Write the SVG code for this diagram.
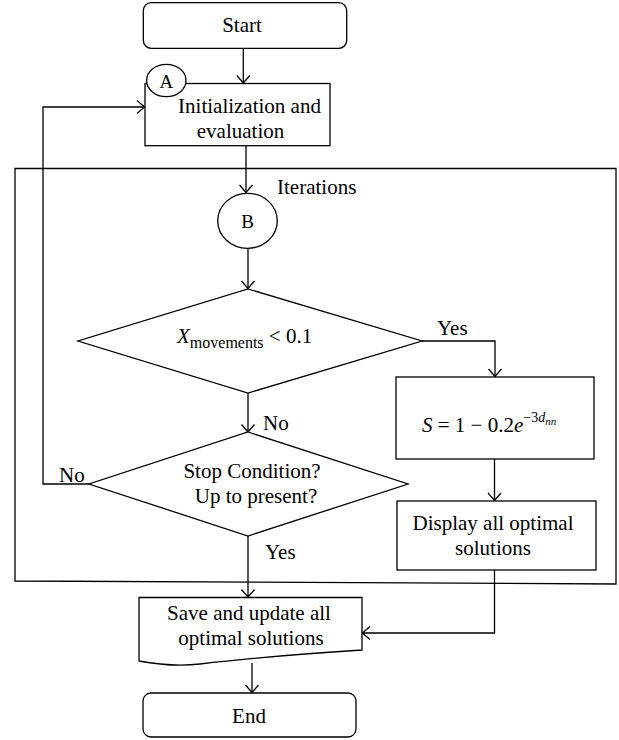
<svg xmlns="http://www.w3.org/2000/svg" width="619" height="740" viewBox="0 0 619 740" font-family="'Liberation Serif', 'Times New Roman', serif">
<style>
.s{fill:#fff;stroke:#000;stroke-width:1.3}
.f{fill:none;stroke:#000;stroke-width:1.3}
.c{fill:none;stroke:#000;stroke-width:1.3;marker-end:url(#ah)}
text{font-family:'Liberation Serif','Times New Roman',serif;font-size:21px;fill:#000}
.m{text-anchor:middle}
.i{font-style:italic}
</style>
<defs>
<marker id="ah" markerUnits="userSpaceOnUse" viewBox="-9 -8 10 16" refX="0" refY="0" markerWidth="10" markerHeight="16" orient="auto">
<path d="M-7.5,-6.5 L0,0 L-7.5,6.5" fill="none" stroke="#000" stroke-width="1.3"/>
</marker>
</defs>
<rect width="619" height="740" fill="#fff"/>
<g id="frame">
<path class="f" d="M15,168.5 H616 V584 L15,581 Z"/>
<text x="277" y="194">Iterations</text>
</g>
<g id="connectors">
<path class="c" d="M243.3,48.3 V83"/>
<path class="c" d="M246,146 V192.5"/>
<path class="c" d="M248,248.5 V288.5"/>
<path class="c" d="M422,341 H495 V376.5"/>
<path class="c" d="M248,393 V432"/>
<path class="c" d="M89,484 H43 V107 H144.5"/>
<path class="c" d="M248,536 V597"/>
<path class="c" d="M494.5,459 V500.5"/>
<path class="c" d="M494.5,570 V633 H362.5"/>
<path class="c" d="M252,663 V692.5"/>
<text x="437" y="335">Yes</text>
<text x="263" y="430">No</text>
<text x="59" y="482">No</text>
<text x="265" y="559">Yes</text>
</g>
<g id="start">
<rect class="s" x="143.3" y="2.7" width="203.4" height="45.6" rx="8"/>
<text class="m" x="242" y="32">Start</text>
</g>
<g id="init">
<rect class="s" x="145" y="83.5" width="185" height="62.2"/>
<text class="m" x="249.5" y="113">Initialization and</text>
<text class="m" x="240.5" y="138">evaluation</text>
</g>
<g id="A">
<ellipse class="s" cx="166.3" cy="80.5" rx="19.7" ry="16.2"/>
<text class="m" x="166.3" y="87.5" style="font-size:19px">A</text>
</g>
<g id="B">
<ellipse class="s" cx="247.5" cy="220.8" rx="29.8" ry="27.5"/>
<text class="m" x="247.5" y="228" style="font-size:19px">B</text>
</g>
<g id="decision1">
<polygon class="s" points="248,289 422,341 248,393 78,341"/>
<text x="177" y="343"><tspan class="i">X</tspan><tspan style="font-size:16px" dy="5">movements</tspan><tspan dy="-5"> &lt; 0.1</tspan></text>
</g>
<g id="formula">
<rect class="s" x="396" y="377" width="198" height="82"/>
<text x="422" y="432"><tspan class="i">S</tspan> = 1 − 0.2<tspan class="i">e</tspan><tspan style="font-size:14px" dy="-10">−3</tspan><tspan class="i" style="font-size:14px">d</tspan><tspan class="i" style="font-size:11px" dy="3">nn</tspan></text>
</g>
<g id="decision2">
<polygon class="s" points="248,432 408,484 248,536 89,484"/>
<text class="m" x="252" y="478">Stop Condition?</text>
<text class="m" x="256" y="503">Up to present?</text>
</g>
<g id="display">
<rect class="s" x="397" y="501" width="199" height="69"/>
<text class="m" x="493" y="530">Display all optimal</text>
<text class="m" x="493" y="555">solutions</text>
</g>
<g id="save">
<path class="s" d="M139,597.5 H362 V650 C300,654 250,658 200,664 C175,667 155,664 139,661 Z"/>
<text class="m" x="249" y="620">Save and update all</text>
<text class="m" x="251" y="645">optimal solutions</text>
</g>
<g id="end">
<rect class="s" x="143" y="693" width="213" height="44" rx="8"/>
<text class="m" x="249" y="723">End</text>
</g>
</svg>
